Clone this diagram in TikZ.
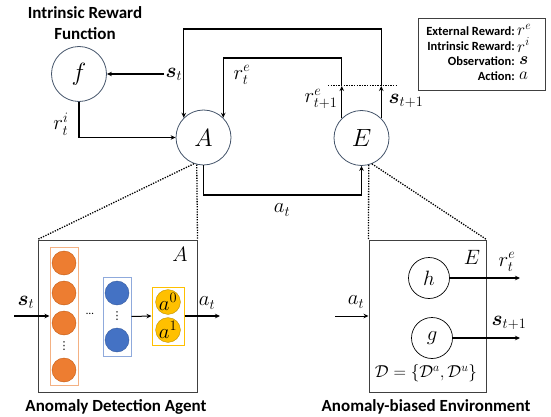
\documentclass[tikz,border=0pt]{standalone}
\usepackage{amsmath}
\usepackage{fontspec}
\setmainfont{Carlito}
\newfontfamily\dvsans{DejaVu Sans}
\usetikzlibrary{arrows.meta,calc}
\definecolor{circbd}{HTML}{44546A}
\definecolor{orfill}{HTML}{ED7D31}
\definecolor{ordraw}{HTML}{C55A11}
\definecolor{orrect}{HTML}{F4B183}
\definecolor{blfill}{HTML}{4472C4}
\definecolor{blrect}{HTML}{8FAADC}
\definecolor{yefill}{HTML}{FFC000}
\definecolor{yedraw}{HTML}{BF9000}
\definecolor{boxbd}{HTML}{404040}
\tikzset{
  bigcirc/.style={circle,draw=circbd,line width=0.8pt,minimum size=55pt,inner sep=0pt,font=\fontsize{23}{27}\selectfont},
  smallcirc/.style={circle,draw=black,line width=0.7pt,minimum size=41pt,inner sep=0pt,font=\fontsize{22}{26}\selectfont},
  orcirc/.style={circle,fill=orfill,draw=ordraw,line width=0.4pt,minimum size=24pt,inner sep=0pt},
  blcirc/.style={circle,fill=blfill,draw=blfill!80!black,line width=0.4pt,minimum size=24pt,inner sep=0pt},
  yecirc/.style={circle,fill=yefill,draw=yedraw,line width=0.4pt,minimum size=23pt,inner sep=0pt,font=\fontsize{20}{22}\selectfont},
  arr/.style={line width=1.2pt,-{Stealth[length=5pt,width=4.5pt]}},
  zoomline/.style={line width=1.3pt,dash pattern=on 1.3pt off 1.3pt},
  lbl/.style={font=\fontsize{22}{26}\selectfont,inner sep=1pt},
  title/.style={font=\bfseries\fontsize{17}{21}\selectfont,align=center},
  legtxt/.style={font=\bfseries\fontsize{12.5}{15}\selectfont,anchor=east,inner sep=0pt},
  legsym/.style={font=\fontsize{18}{20}\selectfont,anchor=west,inner sep=0pt},
  dotsnode/.style={font=\fontsize{11}{11}\selectfont,inner sep=0pt},
  panel/.style={draw=boxbd,line width=1pt},
}
\begin{document}
\begin{tikzpicture}[x=1pt,y=-1pt]
\useasboundingbox (0,0) rectangle (551,417);
% ---- main loop ----
\node[bigcirc] (f) at (79,74) {$f$};
\node[bigcirc] (A) at (203.5,137.5) {$A$};
\node[bigcirc] (E) at (361.5,138) {$E$};
\node[title] (irf) at (85,23) {Intrinsic Reward\\Function};

\coordinate (dl) at (0,86);
\coordinate (top1) at (0,29);
\coordinate (top2) at (0,58);
\coordinate (abot) at (0,195);

\node[lbl] (st) at (174,74) {$\boldsymbol{s}_t$};
\draw[arr] (st.west) -- (f.east);
\draw[arr] (f.south) |- (A.west);
\node[lbl] (rti) at (61,124) {$r_t^i$};

\draw[arr] (E.45) -- (E.45 |- dl);
\draw[arr] (E.45 |- dl) -- (E.45 |- top1) -| (A.135);
\draw[arr] (E.135) -- (E.135 |- dl);
\draw[arr] (E.135 |- dl) -- (E.135 |- top2) -| (A.45);
\coordinate (dlL) at (328,86);
\coordinate (dlR) at (398,86);
\draw[zoomline,line width=1pt] (dlL) -- (dlR);
\node[lbl] (rte) at (242,75) {$r_t^e$};
\node[lbl] (rte1) at (321,99) {$r_{t+1}^e$};
\node[lbl] (st1) at (406,101) {$\boldsymbol{s}_{t+1}$};

\draw[arr] (A.south) -- (A.south |- abot) -| (E.south);
\node[lbl] (at) at (282,210) {$a_t$};

% ---- legend ----
\node[draw=boxbd,line width=0.8pt,minimum width=127pt,minimum height=72pt,inner sep=0pt] (leg) at (481.5,54) {};
\node[legtxt] (l1) at (515,31) {External Reward:};
\node[legsym] (s1) at (517,30) {$r^e$};
\node[legtxt] (l2) at (515,46) {Intrinsic Reward:};
\node[legsym] (s2) at (517,45) {$r^i$};
\node[legtxt] (l3) at (515,61) {Observation:};
\node[legsym] (s3) at (519,61) {$\boldsymbol{s}$};
\node[legtxt] (l4) at (515,76) {Action:};
\node[legsym] (s4) at (519,76) {$a$};

% ---- agent panel ----
\node[panel,minimum width=159pt,minimum height=152pt,inner sep=0pt] (boxA) at (117.5,316) {};
\draw[zoomline] (A.256) -- (boxA.north east);
\draw[zoomline] (A.250) -- (boxA.north west);
\node[lbl] (Al) at (180,254) {$A$};
\node[draw=orrect,line width=1pt,minimum width=28pt,minimum height=138pt,inner sep=0pt] (orr) at (64,316) {};
\node[orcirc] (o1) at (64,263) {};
\node[orcirc] (o2) at (64,293) {};
\node[orcirc] (o3) at (64,323) {};
\node[dotsnode] (od) at (64,346) {\dvsans ⋮};
\node[orcirc] (o4) at (64,370) {};
\node[dotsnode] (hd) at (90,314) {…};
\node[draw=blrect,line width=1pt,minimum width=28pt,minimum height=79pt,inner sep=0pt] (blr) at (117,316.5) {};
\node[blcirc] (b1) at (117,293) {};
\node[dotsnode] (bd) at (117,316) {\dvsans ⋮};
\node[blcirc] (b2) at (117,340) {};
\node[draw=yefill,line width=1pt,minimum width=32pt,minimum height=58pt,inner sep=0pt] (yer) at (168,316) {};
\node[yecirc] (y0) at (168,302) {$a^0$};
\node[yecirc] (y1) at (168,330) {$a^1$};
\draw[arr,line width=1pt] (blr.east) -- (yer.west);
\coordinate (aout) at (220,316);
\draw[arr] (yer.east) -- (aout);
\node[lbl] (atA) at (207,303) {$a_t$};
\coordinate (sin) at (14,316);
\draw[arr] (sin) -- (orr.west);
\node[lbl] (stA) at (26,302) {$\boldsymbol{s}_t$};
\node[title] (agt) at (116,407) {Anomaly Detection Agent};

% ---- environment panel ----
\node[panel,minimum width=117pt,minimum height=152pt,inner sep=0pt] (boxE) at (427.5,316) {};
\draw[zoomline] (E.285) -- (boxE.north west);
\draw[zoomline] (E.292) -- (boxE.north east);
\node[lbl] (El) at (472,257) {$E$};
\node[smallcirc] (h) at (429,278) {$h$};
\node[smallcirc] (g) at (432,338) {$g$};
\coordinate (hout) at (520,278);
\coordinate (gout) at (520,338);
\draw[arr] (h.east) -- (hout);
\draw[arr] (g.east) -- (gout);
\node[lbl] (rteE) at (507,262) {$r_t^e$};
\node[lbl] (stE) at (509,323) {$\boldsymbol{s}_{t+1}$};
\coordinate (ain) at (335,316);
\draw[arr,line width=1pt] (ain) -- (boxE.west);
\node[lbl] (atE) at (356,302) {$a_t$};
\node[lbl,font=\fontsize{18.5}{21}\selectfont] (Dl) at (426,373) {$\mathcal{D}=\{\mathcal{D}^a,\mathcal{D}^u\}$};
\node[title] (env) at (426,407) {Anomaly-biased Environment};
\end{tikzpicture}
\end{document}
